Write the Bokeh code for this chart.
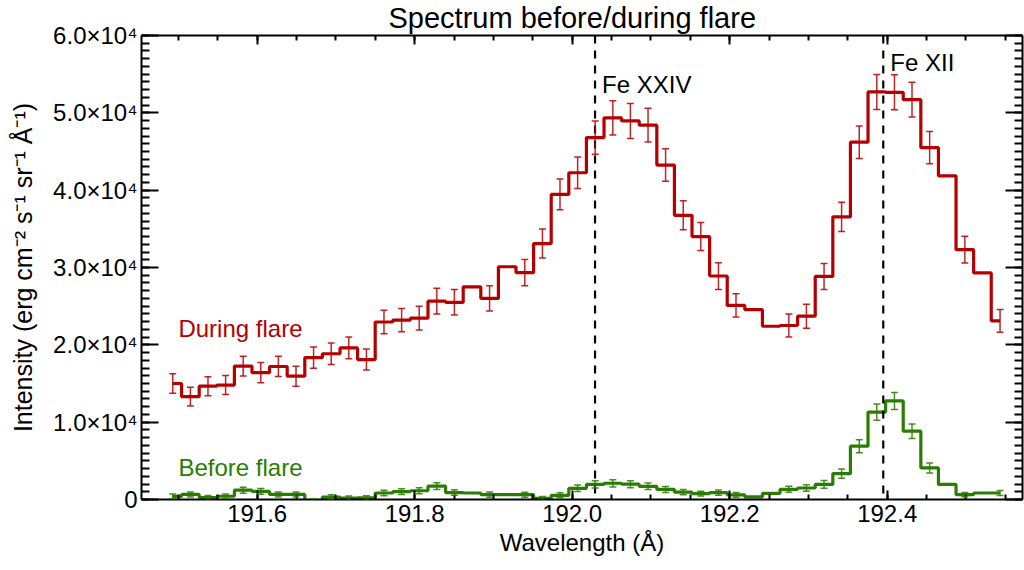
from bokeh.plotting import figure
from bokeh.models import (Range1d, LinearAxis, FixedTicker, CustomJSTickFormatter,
                          Whisker, ColumnDataSource, Span, Label, TeeHead)
from bokeh.embed import file_html
from bokeh.resources import INLINE

# Spectral bin centres (Angstrom)
wavelength = [191.4928, 191.5152, 191.5375, 191.5599, 191.5822, 191.6046, 191.6269, 191.6493,
              191.6716, 191.6940, 191.7163, 191.7387, 191.7610, 191.7834, 191.8057, 191.8281,
              191.8504, 191.8728, 191.8951, 191.9175, 191.9398, 191.9622, 191.9845, 192.0069,
              192.0292, 192.0516, 192.0739, 192.0963, 192.1186, 192.1410, 192.1633, 192.1857,
              192.2080, 192.2304, 192.2527, 192.2751, 192.2974, 192.3198, 192.3421, 192.3645,
              192.3868, 192.4092, 192.4315, 192.4539, 192.4762, 192.4986, 192.5209, 192.5433]

# Intensity during the flare and its 1-sigma uncertainty (None = no error estimate)
during_flare = [15000, 13300, 14650, 14800, 17250, 16400, 17200, 15950,
                18350, 18850, 19600, 18100, 22950, 23200, 23450, 25650,
                25500, 27500, 26000, 30100, 29350, 33100, 39450, 42250,
                46800, 49350, 48950, 48400, 43250, 36750, 34000, 28900,
                25100, 24550, 22400, 22500, 23700, 28850, 36550, 46200,
                52700, 52650, 51700, 45500, 41850, 32300, 29300, 23100]
during_err = [1270, 1210, 1230, 1230, 1270, 1310, 1310, 1290,
              1380, 1380, 1400, 1360, 1530, 1510, 1530, 1660,
              1640, None, 1640, None, 1700, 1880, 1980, 2050,
              2160, 2220, 2260, 2180, 2090, 1880, 1810, 1730,
              1510, None, None, 1490, 1550, 1680, 1900, 2110,
              2260, 2260, 2240, 2090, None, 1730, None, 1470]

# Intensity before the flare and its uncertainty
before_flare = [400, 650, 250, 420, 1200, 1050, 650, 650,
                -150, 320, 180, 200, 840, 1020, 1130, 1730,
                900, 840, 630, 620, 620, 150, 540, 1450,
                1950, 2100, 1980, 1710, 1300, 950, 760, 880,
                600, 350, 800, 1320, 1490, 1950, 3350, 6900,
                11300, 12750, 8830, 4080, 1950, 630, 840, 840]
before_err = [300, 320, 280, 300, 380, 370, 320, 320,
              250, 300, 280, 280, 350, 370, 380, 450,
              360, None, 330, None, 330, 250, 320, 420,
              460, 470, 460, 430, 390, 350, 320, 340,
              300, None, None, 390, 410, 500, 600, 840,
              1060, 1100, 930, 650, None, 280, None, 330]

# Line identifications
line_ids = ["Fe XXIV", "Fe XII"]
line_wavelengths = [192.029, 192.395]

# Axis ticks
x_major = [191.6, 191.8, 192.0, 192.2, 192.4]
x_minor = [191.45, 191.5, 191.55, 191.6, 191.65, 191.7, 191.75, 191.8, 191.85, 191.9,
           191.95, 192.0, 192.05, 192.1, 192.15, 192.2, 192.25, 192.3, 192.35, 192.4,
           192.45, 192.5, 192.55]
y_major = [0, 10000, 20000, 30000, 40000, 50000, 60000]
y_minor = [k * 1000 for k in range(61)]

FONT = "Liberation Sans"
RED = "#b40000"
GREEN = "#2a7d00"

p = figure(frame_width=881, frame_height=464,
           x_range=Range1d(191.4531, 192.5718), y_range=Range1d(0, 60000),
           x_axis_type=None, y_axis_type=None,
           output_backend="svg", toolbar_location=None,
           min_border_left=141, min_border_right=2, min_border_top=35, min_border_bottom=71,
           background_fill_color="white", border_fill_color="white")
p.outline_line_color = None
p.xgrid.visible = False
p.ygrid.visible = False

p.title.text = "Spectrum before/during flare"
p.title.text_font = FONT
p.title.text_font_size = "29px"
p.title.text_font_style = "normal"
p.title.align = "left"
p.title.offset = 247
p.title.standoff = 0
p.title.vertical_align = "top"
p.title.text_color = "black"


def style_axis(ax, major_in, minor_in, show_labels):
    ax.axis_line_width = 2
    ax.axis_line_color = "black"
    ax.major_tick_in = major_in
    ax.major_tick_out = 0
    ax.minor_tick_in = minor_in
    ax.minor_tick_out = 0
    ax.major_tick_line_width = 2
    ax.minor_tick_line_width = 2
    ax.major_label_text_font = FONT
    ax.axis_label_text_font = FONT
    ax.axis_label_text_font_style = "normal"
    ax.major_label_text_color = "black"
    ax.axis_label_text_color = "black"
    if show_labels:
        ax.major_label_text_font_size = "24px"
        ax.axis_label_text_font_size = "24px"
    else:
        ax.major_label_text_font_size = "0px"
        ax.major_label_standoff = 0
        ax.formatter = CustomJSTickFormatter(code="return '';")


x_fmt = CustomJSTickFormatter(code="return tick.toFixed(1);")
y_fmt = CustomJSTickFormatter(code="return tick == 0 ? '0' : (tick / 1e4).toFixed(1) + '\u00d710\u2074';")

bottom = LinearAxis(ticker=FixedTicker(ticks=x_major, minor_ticks=x_minor), formatter=x_fmt,
                    axis_label="Wavelength (\u00c5)")
style_axis(bottom, 9, 5, True)
bottom.major_label_standoff = 5
bottom.axis_label_standoff = 4
p.add_layout(bottom, "below")

top = LinearAxis(ticker=FixedTicker(ticks=x_major, minor_ticks=x_minor))
style_axis(top, 9, 5, False)
p.add_layout(top, "above")

left = LinearAxis(ticker=FixedTicker(ticks=y_major, minor_ticks=y_minor), formatter=y_fmt,
                  axis_label="Intensity (erg cm\u207b\u00b2 s\u207b\u00b9 sr\u207b\u00b9 \u00c5\u207b\u00b9)")
style_axis(left, 17, 8, True)
left.major_label_standoff = 4
left.axis_label_standoff = 13
left.axis_label_text_font_size = "25px"
p.add_layout(left, "left")

right = LinearAxis(ticker=FixedTicker(ticks=y_major, minor_ticks=y_minor))
style_axis(right, 17, 8, False)
p.add_layout(right, "right")

# Line identification markers
for name, wl in zip(line_ids, line_wavelengths):
    p.add_layout(Span(location=wl, dimension="height", line_color="black",
                      line_width=2.2, line_dash="8 7"))

# Spectra drawn as histograms
p.step(wavelength, during_flare, mode="center", line_color=RED, line_width=3.2)
p.step(wavelength, before_flare, mode="center", line_color=GREEN, line_width=3.2)


def error_source(xs, ys, errs):
    keep = [i for i, e in enumerate(errs) if e is not None]
    return ColumnDataSource(dict(
        base=[xs[i] for i in keep],
        lower=[ys[i] - errs[i] for i in keep],
        upper=[ys[i] + errs[i] for i in keep]))


for ys, errs, col in [(during_flare, during_err, RED), (before_flare, before_err, GREEN)]:
    w = Whisker(source=error_source(wavelength, ys, errs), base="base", lower="lower", upper="upper",
                line_color=col, line_width=1.5, line_alpha=0.85,
                upper_head=TeeHead(size=7, line_color=col, line_width=1.5, line_alpha=0.85),
                lower_head=TeeHead(size=7, line_color=col, line_width=1.5, line_alpha=0.85))
    w.level = "overlay"
    p.add_layout(w)

# Text annotations
label_style = dict(text_font=FONT, text_font_size="24px", text_baseline="alphabetic")
p.add_layout(Label(x=191.500, y=22100, text="During flare", text_color=RED, **label_style))
p.add_layout(Label(x=191.500, y=4120, text="Before flare", text_color=GREEN, **label_style))
p.add_layout(Label(x=line_wavelengths[0] + 0.009, y=53650, text=line_ids[0],
                   text_color="black", **label_style))
p.add_layout(Label(x=line_wavelengths[1] + 0.009, y=56530, text=line_ids[1],
                   text_color="black", **label_style))

open("out.html", "w").write(file_html(p, INLINE))
